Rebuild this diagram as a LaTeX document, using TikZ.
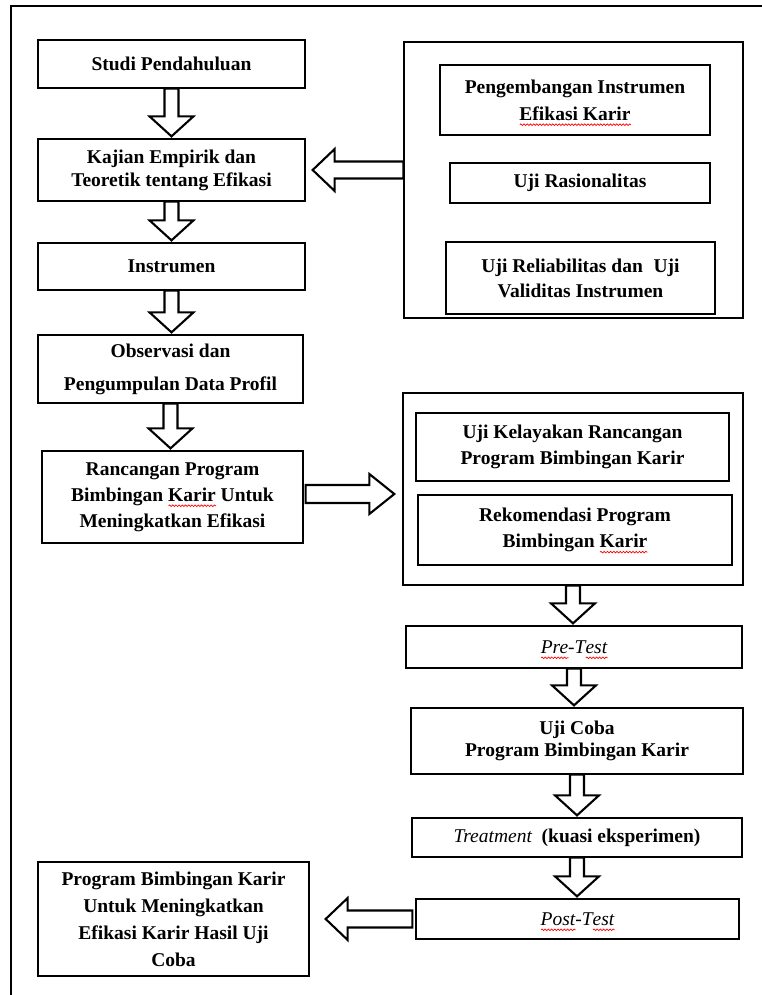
\documentclass[tikz,border=0pt]{standalone}
\usepackage{fontspec}
\setmainfont{Liberation Serif}
\usetikzlibrary{calc,decorations.pathmorphing}

\newlength\sqw
\newcommand\squig[1]{\settowidth\sqw{#1}\leavevmode\rlap{\raisebox{-4.5pt}[0pt][0pt]{\tikz[x=1pt,y=1pt,baseline=0pt]\draw[red,line width=0.7pt,decorate,decoration={snake,amplitude=0.8pt,segment length=3.2pt}] (0pt,0pt) -- (\sqw,0pt);}}#1}

% vertical block arrow: from south of #1 down to north of #2
\newcommand\darrow[2]{%
  \draw[blk] let \p1=(#1.south), \p2=(#2.north) in
    (\x1-7pt,\y1) -- (\x1-7pt,\y2+22pt) -- (\x1-22pt,\y2+22pt) -- (\x1,\y2+2pt)
    -- (\x1+22pt,\y2+22pt) -- (\x1+7pt,\y2+22pt) -- (\x1+7pt,\y1) -- cycle;}
% leftward block arrow: from west of #1 to east of #2; #3 gap at tip, #4 end gap at source
\newcommand\larrow[4]{%
  \draw[blk] let \p1=(#1.west), \p2=(#2.east) in
    (\x1-#4,\y2+8.5pt) -- (\x2+#3+22pt,\y2+8.5pt) -- (\x2+#3+22pt,\y2+21pt) -- (\x2+#3,\y2)
    -- (\x2+#3+22pt,\y2-21pt) -- (\x2+#3+22pt,\y2-8.5pt) -- (\x1-#4,\y2-8.5pt) -- cycle;}
% rightward block arrow: from east of #1 to west of #2
\newcommand\rarrow[2]{%
  \draw[blk] let \p1=(#1.east), \p2=(#2.west) in
    (\x1+2pt,\y1+12pt) -- (\x2-33pt,\y1+12pt) -- (\x2-33pt,\y1+23pt) -- (\x2-8pt,\y1+3pt)
    -- (\x2-33pt,\y1-17pt) -- (\x2-33pt,\y1-6pt) -- (\x1+2pt,\y1-6pt) -- cycle;}

\tikzset{
  box/.style={draw=black, line width=1.3pt, align=center, inner sep=0pt,
    font=\bfseries\fontsize{19.5}{26}\selectfont},
  wh/.style 2 args={minimum width=#1pt, minimum height=#2pt},
  lsk/.style={font=\bfseries\fontsize{19.5}{#1}\selectfont},
  itx/.style={font=\itshape\fontsize{19.5}{26}\selectfont},
  blk/.style={draw=black, line width=2.1pt, fill=white, line join=miter},
  frame/.style={draw=black, line width=1.8pt},
}

\begin{document}
\begin{tikzpicture}[x=1pt,y=-1pt]
\useasboundingbox (0,0) rectangle (762,995);
\draw[frame] (11,1000) -- (11,6) -- (770,6);

% left column
\node[box,wh={267}{48}] (studi) at (171.5,64) {Studi Pendahuluan};
\node[box,wh={267}{62},lsk=23] (kajian) at (171.5,170) {Kajian Empirik dan\\Teoretik tentang Efikasi};
\node[box,wh={267}{47}] (instr) at (171.5,266.5) {Instrumen};
\node[box,wh={265}{68},lsk=33] (obs) at (170.5,369) {Observasi dan\\Pengumpulan Data Profil};
\node[box,wh={261}{92}] (ranc) at (172.5,497) {Rancangan Program\\Bimbingan \squig{Karir} Untuk\\Meningkatkan Efikasi};
\node[box,wh={271}{114},lsk=27] (final) at (173.5,919) {Program Bimbingan Karir\\Untuk Meningkatkan\\Efikasi Karir Hasil Uji\\Coba};

% right group 1
\node[box,wh={339}{276}] (big1) at (573.5,180) {};
\node[box,wh={270}{70},lsk=27] (peng) at (575,100) {Pengembangan Instrumen\\\squig{Efikasi Karir}};
\node[box,wh={260}{40}] (rasio) at (580,183) {Uji Rasionalitas};
\node[box,wh={269}{72},lsk=25] (relia) at (580.5,278) {Uji Reliabilitas dan\hspace{0.3em} Uji\\Validitas Instrumen};

% right group 2
\node[box,wh={340}{192}] (big2) at (573,489) {};
\node[box,wh={313}{68}] (kelay) at (572.5,447) {Uji Kelayakan Rancangan\\Program Bimbingan Karir};
\node[box,wh={314}{70}] (rekom) at (575,530) {Rekomendasi Program\\Bimbingan \squig{Karir}};

% right column
\node[box,wh={336}{42},itx] (pre) at (574,647) {\squig{Pre}-T\squig{est}};
\node[box,wh={332}{66},lsk=22] (coba) at (577,741) {Uji Coba\\Program Bimbingan Karir};
\node[box,wh={330}{39}] (treat) at (577,837.5) {{\mdseries\itshape Treatment}\ \ (kuasi eksperimen)};
\node[box,wh={323}{40},itx] (post) at (577.5,919) {\squig{Post}-T\squig{est}};

% arrows
\darrow{studi}{kajian}
\darrow{kajian}{instr}
\darrow{instr}{obs}
\darrow{obs}{ranc}
\darrow{big2}{pre}
\darrow{pre}{coba}
\darrow{coba}{treat}
\darrow{treat}{post}
\larrow{big1}{kajian}{7pt}{0pt}
\larrow{post}{final}{16pt}{3pt}
\rarrow{ranc}{big2}
\end{tikzpicture}
\end{document}
